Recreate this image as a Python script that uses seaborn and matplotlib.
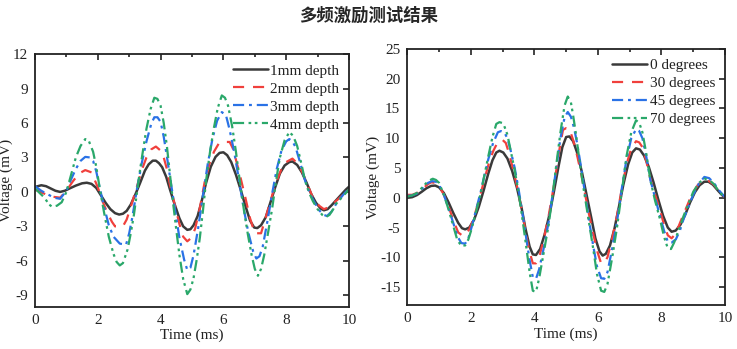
import numpy as np
import pandas as pd
import matplotlib
matplotlib.use("Agg")
import matplotlib.pyplot as plt
import seaborn as sns
from matplotlib.ticker import MultipleLocator

sns.set_theme(style="white")
plt.rcParams['font.family'] = ['Liberation Serif', 'DejaVu Serif']
plt.rcParams['axes.unicode_minus'] = False

title = "多频激励测试结果"

# ---- Left chart: depth ----
depth_labels = ["1mm depth", "2mm depth", "3mm depth", "4mm depth"]
d1_t = [0, 0.2, 0.35, 0.5, 0.65, 0.8, 0.95, 1.1, 1.3, 1.5, 1.65, 1.8, 1.95, 2.1, 2.25, 2.4, 2.55, 2.68, 2.8, 2.92, 3.05, 3.2, 3.35, 3.5, 3.62, 3.75, 3.85, 3.95, 4.05, 4.18, 4.3, 4.45, 4.6, 4.72, 4.85, 4.95, 5.05, 5.18, 5.3, 5.45, 5.6, 5.75, 5.88, 6.0, 6.12, 6.25, 6.4, 6.55, 6.7, 6.85, 6.98, 7.08, 7.2, 7.35, 7.5, 7.65, 7.8, 7.95, 8.1, 8.2, 8.35, 8.5, 8.65, 8.8, 8.95, 9.1, 9.2, 9.32, 9.45, 9.6, 9.75, 9.9, 10]
d1_v = [0.43, 0.58, 0.5, 0.3, 0.1, 0.0, 0.1, 0.3, 0.55, 0.75, 0.8, 0.7, 0.35, -0.3, -0.95, -1.5, -1.85, -1.97, -1.9, -1.65, -1.1, -0.2, 0.8, 1.85, 2.4, 2.72, 2.72, 2.5, 2.15, 1.3, 0.2, -1.1, -2.3, -3.0, -3.3, -3.25, -2.9, -2.1, -0.9, 0.8, 2.2, 3.05, 3.4, 3.45, 3.2, 2.6, 1.5, 0.2, -1.2, -2.5, -3.1, -3.15, -2.9, -2.2, -0.9, 0.4, 1.6, 2.3, 2.6, 2.65, 2.35, 1.7, 0.8, -0.2, -0.95, -1.45, -1.6, -1.5, -1.15, -0.7, -0.25, 0.2, 0.45]
d2_t = [0, 0.25, 0.5, 0.8, 1.0, 1.2, 1.4, 1.6, 1.8, 2.0, 2.15, 2.3, 2.45, 2.55, 2.8, 2.92, 3.05, 3.25, 3.4, 3.55, 3.7, 3.85, 4.0, 4.1, 4.2, 4.3, 4.45, 4.6, 4.72, 4.85, 4.98, 5.1, 5.25, 5.4, 5.55, 5.7, 5.85, 5.95, 6.2, 6.3, 6.4, 6.55, 6.7, 6.85, 7.0, 7.2, 7.35, 7.5, 7.65, 7.85, 8.0, 8.2, 8.35, 8.5, 8.7, 8.85, 9.05, 9.2, 9.35, 9.5, 9.75, 10]
d2_v = [0.2, -0.1, -0.4, -0.5, 0.1, 0.9, 1.6, 1.9, 1.7, 0.4, -0.8, -1.8, -2.6, -3.0, -3.0, -2.4, -1.3, 0.5, 1.9, 3.0, 3.7, 3.95, 3.6, 3.0, 2.0, 0.6, -1.1, -2.8, -3.9, -4.3, -4.0, -3.2, -1.4, 0.8, 2.4, 3.5, 4.2, 4.35, 4.35, 3.8, 2.8, 1.2, -0.5, -2.3, -3.6, -3.6, -2.2, -0.8, 0.6, 2.0, 2.6, 2.9, 2.5, 1.8, 0.5, -0.5, -1.2, -1.5, -1.35, -1.0, -0.4, 0.2]
d3_t = [0, 0.2, 0.4, 0.6, 0.8, 1.0, 1.15, 1.3, 1.45, 1.6, 1.75, 1.85, 1.95, 2.05, 2.2, 2.35, 2.5, 2.7, 2.9, 3.0, 3.1, 3.25, 3.4, 3.55, 3.7, 3.8, 3.9, 4.0, 4.1, 4.2, 4.3, 4.45, 4.6, 4.75, 4.85, 4.95, 5.05, 5.2, 5.35, 5.5, 5.65, 5.8, 5.95, 6.08, 6.2, 6.35, 6.5, 6.65, 6.8, 6.95, 7.05, 7.15, 7.25, 7.4, 7.55, 7.7, 7.85, 8.0, 8.1, 8.2, 8.3, 8.45, 8.6, 8.75, 8.9, 9.05, 9.2, 9.3, 9.45, 9.6, 9.8, 10]
d3_v = [0.5, 0.1, -0.2, -0.5, -0.6, 0.1, 1.1, 2.0, 2.7, 3.05, 3.0, 2.7, 1.8, 0.5, -1.3, -2.9, -3.9, -4.5, -4.6, -3.6, -2.2, 0.3, 2.5, 4.4, 5.9, 6.5, 6.5, 6.1, 4.8, 3.1, 1.3, -1.4, -4.0, -5.9, -6.8, -6.6, -5.5, -3.1, -0.3, 2.4, 4.6, 6.2, 6.95, 6.7, 5.4, 3.4, 1.0, -1.5, -3.6, -5.2, -5.8, -5.6, -4.8, -2.6, -0.2, 2.0, 3.6, 4.4, 4.6, 4.4, 3.9, 2.5, 1.0, -0.1, -0.9, -1.6, -2.0, -2.1, -1.7, -1.0, -0.3, 0.3]
d4_t = [0, 0.15, 0.3, 0.45, 0.55, 0.7, 0.85, 1.0, 1.15, 1.3, 1.45, 1.6, 1.72, 1.85, 1.95, 2.05, 2.2, 2.35, 2.5, 2.6, 2.7, 2.8, 2.95, 3.05, 3.15, 3.25, 3.35, 3.45, 3.55, 3.68, 3.8, 3.9, 4.0, 4.1, 4.2, 4.3, 4.4, 4.5, 4.6, 4.72, 4.85, 4.95, 5.05, 5.15, 5.25, 5.35, 5.45, 5.58, 5.7, 5.82, 5.95, 6.05, 6.15, 6.28, 6.4, 6.52, 6.65, 6.78, 6.9, 7.0, 7.1, 7.2, 7.3, 7.42, 7.55, 7.68, 7.8, 7.95, 8.1, 8.22, 8.35, 8.48, 8.6, 8.72, 8.85, 9.0, 9.15, 9.25, 9.38, 9.5, 9.6, 9.8, 10]
d4_v = [0.3, -0.1, -0.5, -1.1, -1.3, -1.2, -0.9, 0.0, 1.5, 3.0, 4.0, 4.6, 4.4, 3.5, 2.2, 0.5, -1.8, -3.9, -5.4, -6.1, -6.4, -6.2, -5.0, -3.6, -2.0, 0.0, 2.0, 3.8, 5.5, 7.2, 8.2, 8.1, 7.5, 6.0, 4.0, 1.5, -1.0, -3.3, -5.5, -7.6, -8.9, -8.5, -7.5, -5.9, -4.0, -1.6, 1.0, 3.6, 5.6, 7.3, 8.4, 8.2, 7.5, 5.7, 3.5, 1.0, -1.5, -3.7, -5.5, -6.7, -7.3, -6.7, -5.5, -3.6, -1.5, 1.0, 3.0, 4.5, 5.2, 4.9, 4.0, 2.5, 1.0, 0.0, -0.8, -1.5, -2.0, -2.2, -2.0, -1.5, -1.0, -0.4, 0.2]

# ---- Right chart: angle ----
angle_labels = ["0 degrees", "30 degrees", "45 degrees", "70 degrees"]
a0_t = [0, 0.15, 0.3, 0.45, 0.6, 0.75, 0.88, 1.0, 1.15, 1.3, 1.45, 1.6, 1.72, 1.82, 1.95, 2.1, 2.25, 2.4, 2.55, 2.68, 2.8, 2.9, 3.02, 3.15, 3.3, 3.45, 3.6, 3.72, 3.85, 3.95, 4.05, 4.18, 4.32, 4.48, 4.62, 4.75, 4.88, 5.0, 5.1, 5.22, 5.35, 5.5, 5.65, 5.8, 5.92, 6.05, 6.15, 6.25, 6.38, 6.52, 6.65, 6.8, 6.95, 7.08, 7.2, 7.32, 7.45, 7.6, 7.75, 7.9, 8.05, 8.2, 8.32, 8.45, 8.6, 8.75, 8.9, 9.05, 9.2, 9.35, 9.48, 9.62, 9.78, 9.9, 10]
a0_v = [0.0, 0.1, 0.45, 1.0, 1.6, 2.0, 2.05, 1.75, 0.8, -0.8, -2.6, -4.2, -5.1, -5.3, -5.0, -3.7, -1.5, 1.2, 4.1, 6.3, 7.6, 7.9, 7.6, 6.6, 4.5, 1.7, -1.8, -5.2, -8.2, -9.5, -9.6, -8.6, -6.2, -2.7, 1.2, 5.0, 8.5, 10.2, 10.3, 9.5, 7.5, 4.2, 0.3, -3.6, -6.8, -9.0, -9.7, -9.4, -8.0, -5.2, -1.8, 2.2, 5.6, 7.6, 8.3, 8.1, 7.1, 5.2, 2.6, -0.3, -3.0, -5.0, -5.7, -5.5, -4.5, -2.8, -0.8, 0.9, 2.1, 2.7, 2.7, 2.2, 1.2, 0.5, 0.0]
a30_t = [0, 0.15, 0.3, 0.5, 0.65, 0.75, 0.88, 1.0, 1.15, 1.3, 1.45, 1.6, 1.72, 1.82, 1.95, 2.05, 2.18, 2.3, 2.42, 2.55, 2.7, 2.85, 3.0, 3.1, 3.2, 3.32, 3.45, 3.58, 3.7, 3.82, 3.95, 4.05, 4.15, 4.3, 4.45, 4.58, 4.7, 4.8, 4.9, 5.0, 5.1, 5.22, 5.35, 5.48, 5.6, 5.72, 5.85, 5.98, 6.1, 6.2, 6.3, 6.45, 6.6, 6.75, 6.9, 7.05, 7.2, 7.3, 7.4, 7.52, 7.65, 7.8, 7.95, 8.08, 8.2, 8.32, 8.45, 8.6, 8.78, 8.95, 9.15, 9.35, 9.5, 9.65, 9.82, 10]
a30_v = [0.5, 0.5, 0.8, 1.6, 2.3, 2.6, 2.5, 2.0, 0.5, -1.5, -3.8, -5.8, -6.3, -6.3, -5.3, -4.0, -1.8, 0.5, 3.0, 5.5, 7.8, 9.4, 9.7, 9.2, 7.5, 5.0, 2.0, -1.5, -5.0, -8.5, -11.0, -11.0, -10.0, -6.8, -3.0, 1.0, 5.0, 8.5, 11.4, 11.7, 11.6, 9.7, 7.0, 3.8, 0.5, -2.8, -6.0, -9.0, -11.0, -10.9, -10.0, -6.8, -3.0, 1.5, 5.6, 8.3, 9.5, 9.3, 8.5, 6.2, 3.2, 0.5, -2.0, -4.5, -6.3, -6.8, -6.0, -4.0, -1.7, 0.5, 2.2, 3.0, 2.8, 2.2, 1.0, 0.1]
a45_t = [0, 0.15, 0.3, 0.5, 0.65, 0.78, 0.9, 1.0, 1.15, 1.3, 1.45, 1.58, 1.7, 1.82, 1.92, 2.02, 2.15, 2.3, 2.42, 2.55, 2.7, 2.85, 2.95, 3.05, 3.15, 3.25, 3.38, 3.5, 3.63, 3.75, 3.85, 3.95, 4.05, 4.15, 4.3, 4.45, 4.58, 4.7, 4.82, 4.95, 5.05, 5.15, 5.25, 5.35, 5.48, 5.6, 5.72, 5.85, 5.97, 6.1, 6.2, 6.3, 6.45, 6.6, 6.75, 6.9, 7.05, 7.2, 7.3, 7.4, 7.52, 7.65, 7.8, 7.95, 8.08, 8.2, 8.32, 8.45, 8.58, 8.7, 8.85, 9.0, 9.18, 9.35, 9.5, 9.65, 9.82, 10]
a45_v = [0.3, 0.4, 0.7, 1.7, 2.5, 2.8, 2.7, 2.2, 0.5, -1.8, -4.3, -6.5, -7.6, -7.7, -6.8, -5.0, -2.3, 0.8, 3.6, 6.5, 9.2, 11.0, 11.2, 11.0, 10.0, 8.0, 5.0, 1.5, -2.8, -7.0, -10.5, -13.3, -13.6, -12.0, -8.3, -4.0, 0.8, 5.5, 10.0, 13.5, 14.4, 13.6, 11.7, 9.0, 4.8, 0.5, -3.8, -8.0, -11.5, -13.5, -13.6, -12.5, -8.5, -4.0, 1.5, 6.5, 10.0, 11.5, 11.2, 10.0, 7.0, 3.0, 0.0, -3.0, -5.5, -7.4, -7.5, -7.0, -5.5, -3.5, -1.5, 0.5, 2.4, 3.5, 3.3, 2.5, 1.2, 0.1]
a70_t = [0, 0.15, 0.3, 0.5, 0.65, 0.8, 0.9, 1.0, 1.15, 1.3, 1.45, 1.58, 1.7, 1.82, 1.92, 2.02, 2.15, 2.3, 2.42, 2.55, 2.68, 2.8, 2.9, 3.02, 3.15, 3.25, 3.38, 3.5, 3.63, 3.75, 3.85, 3.95, 4.05, 4.15, 4.3, 4.45, 4.58, 4.7, 4.82, 4.95, 5.05, 5.15, 5.22, 5.3, 5.42, 5.55, 5.7, 5.85, 5.97, 6.1, 6.2, 6.3, 6.45, 6.6, 6.75, 6.9, 7.05, 7.2, 7.3, 7.4, 7.52, 7.65, 7.8, 7.95, 8.08, 8.2, 8.3, 8.4, 8.55, 8.7, 8.85, 9.0, 9.18, 9.35, 9.5, 9.65, 9.82, 10]
a70_v = [0.2, 0.4, 0.8, 1.9, 2.8, 3.2, 3.0, 2.5, 0.5, -2.0, -4.8, -7.2, -8.0, -8.0, -7.0, -5.3, -2.6, 0.5, 3.6, 7.0, 10.2, 12.4, 12.7, 12.5, 10.6, 8.0, 4.6, 1.0, -3.8, -8.5, -12.5, -15.6, -15.8, -13.5, -9.0, -4.5, 0.8, 6.0, 11.0, 15.5, 17.0, 16.0, 13.8, 11.0, 6.2, 1.5, -3.5, -8.5, -12.8, -15.6, -15.8, -14.5, -10.0, -5.0, 1.0, 7.0, 11.0, 13.0, 12.6, 11.0, 7.5, 3.0, -0.5, -3.5, -6.5, -8.5, -8.6, -7.5, -5.3, -3.0, -1.0, 1.0, 2.5, 3.2, 3.0, 2.3, 1.0, 0.0]

colors = ["#3a3a3a", "#f0403c", "#2a72e6", "#2aa86a"]
widths = [1.8, 1.6, 1.6, 1.6]
dashes = [None, (5, 4), (5, 2.2, 1.3, 2.2), (5, 2, 1.2, 1.6, 1.2, 2)]


def build(ts, vs, labels):
    frames = []
    for t, v, lab in zip(ts, vs, labels):
        frames.append(pd.DataFrame({"Time": t, "Voltage": v, "series": lab}))
    return pd.concat(frames, ignore_index=True)


fig = plt.figure(figsize=(7.37, 3.49), dpi=100)
ax1 = fig.add_axes([0.0475, 0.121, 0.426, 0.724])
ax2 = fig.add_axes([0.5527, 0.126, 0.431, 0.734])

left_df = build([d1_t, d2_t, d3_t, d4_t], [d1_v, d2_v, d3_v, d4_v], depth_labels)
right_df = build([a0_t, a30_t, a45_t, a70_t], [a0_v, a30_v, a45_v, a70_v], angle_labels)

for ax, df, labels, ylim, ystep in [
    (ax1, left_df, depth_labels, (-10, 12), 3),
    (ax2, right_df, angle_labels, (-18, 25), 5),
]:
    for i, lab in enumerate(labels):
        sub = df[df["series"] == lab]
        sns.lineplot(data=sub, x="Time", y="Voltage", ax=ax, sort=False,
                     color=colors[i], linewidth=widths[i], label=lab, estimator=None)
        line = ax.get_lines()[-1]
        if dashes[i] is not None:
            line.set_dashes(dashes[i])
    ax.set_xlim(0, 10)
    ax.set_ylim(*ylim)
    ax.xaxis.set_major_locator(MultipleLocator(2))
    ax.xaxis.set_minor_locator(MultipleLocator(1))
    ax.yaxis.set_major_locator(MultipleLocator(ystep))
    ax.tick_params(which="both", direction="in", top=True, right=True,
                   labelsize=11, colors="#222222", width=1.2)
    ax.tick_params(which="major", length=4.5, pad=5)
    ax.tick_params(which="minor", length=2.5)
    for sp in ax.spines.values():
        sp.set_color("#222222")
        sp.set_linewidth(1.3)
    ax.set_xlabel("Time (ms)", fontsize=11, labelpad=1.5, color="#222222")
    ax.set_ylabel("Voltage (mV)", fontsize=11, labelpad=0, color="#222222")
    leg = ax.legend(loc="upper right", frameon=False, fontsize=11,
                    handlelength=2.3, handletextpad=0.15, labelspacing=0.28,
                    borderaxespad=0.25)
    for txt in leg.get_texts():
        txt.set_color("#222222")
    for lh, d in zip(leg.get_lines(), dashes):
        if d is not None:
            lh.set_dashes(d)

ax1.set_yticks([-9, -6, -3, 0, 3, 6, 9, 12])

fig.text(0.5, 0.955, title, ha="center", va="center", fontsize=12.5,
         fontweight="bold", family=["Noto Sans CJK SC", "DejaVu Sans"])

fig.savefig("out.png", dpi=100)
